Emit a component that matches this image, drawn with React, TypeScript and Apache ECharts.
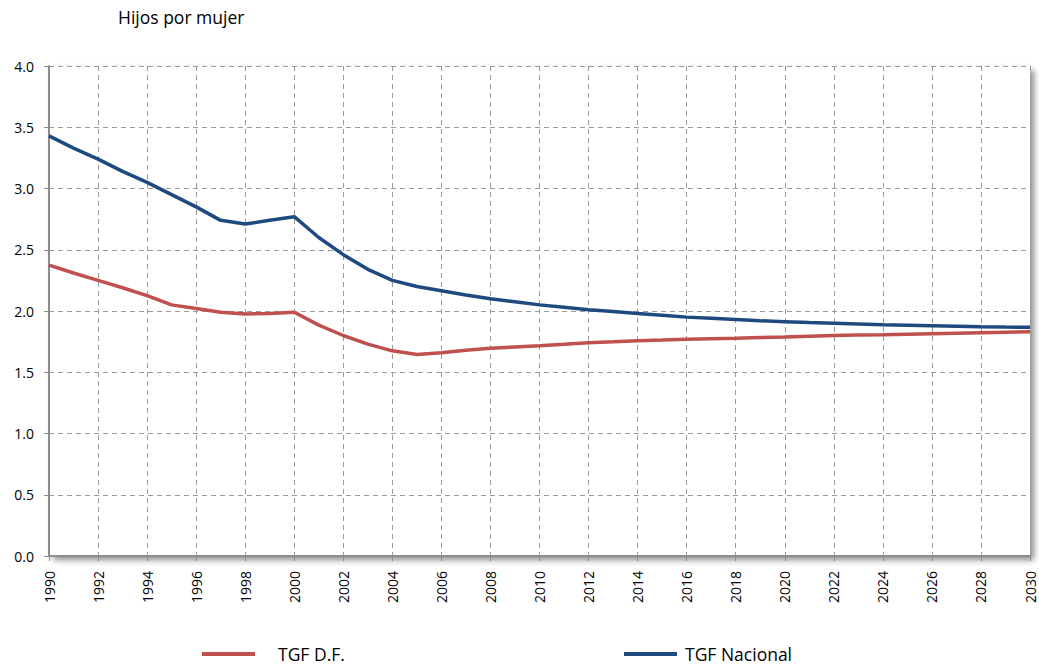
import React, { useEffect, useRef } from "react";
import * as echarts from "echarts";

const years: string[] = [];
for (let y = 1990; y <= 2030; y++) years.push(String(y));

const tgfDF = [
  2.375, 2.31, 2.25, 2.19, 2.125, 2.05, 2.02, 1.99, 1.975, 1.98,
  1.99, 1.885, 1.8, 1.73, 1.675, 1.645, 1.66, 1.68, 1.695, 1.707,
  1.717, 1.728, 1.74, 1.748, 1.757, 1.763, 1.77, 1.774, 1.777, 1.783,
  1.788, 1.794, 1.8, 1.804, 1.807, 1.811, 1.815, 1.819, 1.823, 1.827,
  1.83,
];

const tgfNacional = [
  3.43, 3.33, 3.24, 3.14, 3.05, 2.95, 2.85, 2.74, 2.71, 2.74,
  2.77, 2.6, 2.46, 2.34, 2.25, 2.2, 2.165, 2.13, 2.1, 2.075,
  2.05, 2.03, 2.01, 1.995, 1.98, 1.965, 1.95, 1.94, 1.93, 1.92,
  1.913, 1.906, 1.9, 1.894, 1.888, 1.884, 1.88, 1.876, 1.872, 1.869,
  1.867,
];

const FONT = "'Open Sans', 'Noto Sans', sans-serif";

export default function App() {
  const ref = useRef<HTMLDivElement>(null);
  useEffect(() => {
    if (!ref.current) return;
    const chart = echarts.init(ref.current, undefined, { renderer: "svg" });
    chart.setOption({
      animation: false,
      backgroundColor: "#ffffff",
      title: {
        text: "Hijos por mujer",
        left: 118,
        top: 8,
        padding: 0,
        textStyle: { fontFamily: FONT, fontSize: 17.5, fontWeight: "normal", color: "#000" },
      },
      legend: [
        {
          left: 202,
          top: 645,
          padding: 0,
          data: ["TGF D.F."],
          itemWidth: 53,
          itemHeight: 4,
          icon: "rect",
          textStyle: { fontFamily: FONT, fontSize: 17.5, color: "#000", padding: [0, 0, 0, 18] },
        },
        {
          left: 624,
          top: 645,
          padding: 0,
          data: ["TGF Nacional"],
          itemWidth: 53,
          itemHeight: 4,
          icon: "rect",
          textStyle: { fontFamily: FONT, fontSize: 17.5, color: "#000", padding: [0, 0, 0, 3] },
        },
      ],
      grid: {
        left: 49,
        right: 9,
        top: 66,
        bottom: 110,
        show: true,
        backgroundColor: "#ffffff",
        borderWidth: 0,
        shadowColor: "rgba(0,0,0,0.45)",
        shadowBlur: 6,
        shadowOffsetX: 4,
        shadowOffsetY: 4,
      },
      xAxis: {
        type: "category",
        data: years,
        boundaryGap: false,
        axisLine: { show: true, lineStyle: { color: "#8c8c8c", width: 2 } },
        axisTick: { show: true, interval: 1, length: 5, lineStyle: { color: "#8c8c8c" } },
        axisLabel: {
          interval: 1,
          rotate: 90,
          margin: 15,
          fontFamily: FONT,
          fontSize: 14,
          color: "#000",
        },
        splitLine: {
          show: true,
          interval: 1,
          lineStyle: { color: "#9a9a9a", type: [5, 4], width: 1 },
        },
      },
      yAxis: {
        type: "value",
        min: 0,
        max: 4,
        interval: 0.5,
        axisLine: { show: true, lineStyle: { color: "#8c8c8c", width: 2 } },
        axisTick: { show: true, length: 5, lineStyle: { color: "#8c8c8c" } },
        axisLabel: {
          margin: 15,
          fontFamily: FONT,
          fontSize: 14,
          color: "#000",
          formatter: (v: number) => v.toFixed(1),
        },
        splitLine: {
          show: true,
          lineStyle: { color: "#9a9a9a", type: [5, 4], width: 1 },
        },
      },
      series: [
        {
          name: "TGF D.F.",
          type: "line",
          data: tgfDF,
          symbol: "none",
          lineStyle: { color: "#C0504D", width: 3.5 },
          itemStyle: { color: "#C0504D" },
        },
        {
          name: "TGF Nacional",
          type: "line",
          data: tgfNacional,
          symbol: "none",
          lineStyle: { color: "#1F4A80", width: 3.5 },
          itemStyle: { color: "#1F4A80" },
        },
      ],
    });
    return () => chart.dispose();
  }, []);
  return (
    <div
      ref={ref}
      style={{ position: "absolute", left: 0, top: 0, width: 1039, height: 666 }}
    />
  );
}
